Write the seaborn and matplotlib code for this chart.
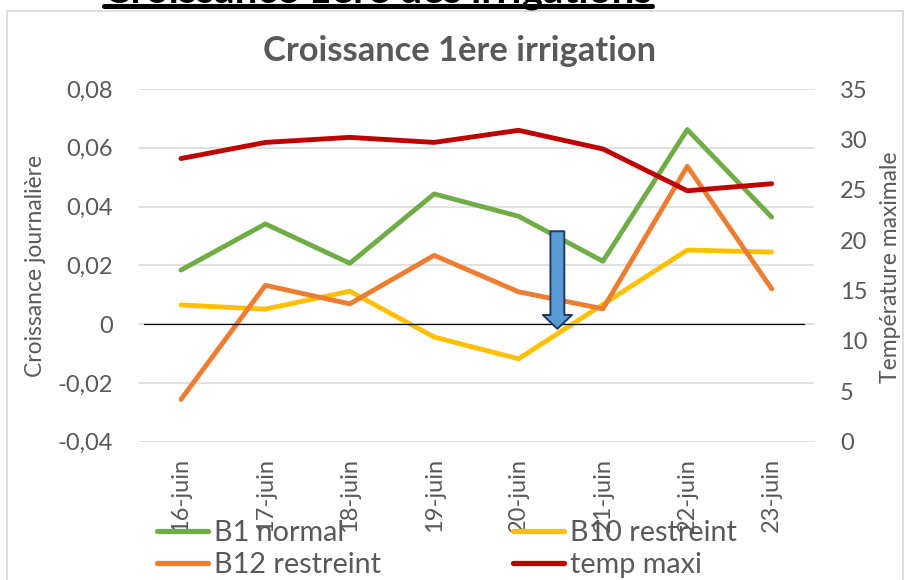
import matplotlib
matplotlib.use("Agg")
import matplotlib.pyplot as plt
import seaborn as sns
import pandas as pd
from matplotlib.lines import Line2D
from matplotlib.patches import Rectangle

# ---------------- data ----------------
dates = ["16-juin", "17-juin", "18-juin", "19-juin", "20-juin", "21-juin", "22-juin", "23-juin"]
b1_normal = [0.0184, 0.0341, 0.0207, 0.0443, 0.0367, 0.0214, 0.0662, 0.0364]
b10_restreint = [0.0065, 0.0051, 0.0112, -0.0044, -0.0118, 0.0067, 0.0252, 0.0245]
b12_restreint = [-0.0256, 0.0132, 0.0069, 0.0234, 0.0110, 0.0052, 0.0537, 0.0120]
temp_maxi = [28.1, 29.7, 30.2, 29.7, 30.9, 29.05, 24.9, 25.6]
series_names = ["B1 normal", "B10 restreint", "B12 restreint", "temp maxi"]
left_ticks = [-0.04, -0.02, 0.0, 0.02, 0.04, 0.06, 0.08]
left_tick_labels = ["-0,04", "-0,02", "0", "0,02", "0,04", "0,06", "0,08"]
right_ticks = [0, 5, 10, 15, 20, 25, 30, 35]
right_tick_labels = ["0", "5", "10", "15", "20", "25", "30", "35"]
title = "Croissance 1ère irrigation"
top_title = "Croissance 1ère des irrigations"
left_label = "Croissance journalière"
right_label = "Température maximale"

colors = {"B1 normal": "#70AD47", "B10 restreint": "#FFC000",
          "B12 restreint": "#ED7D31", "temp maxi": "#C00000"}
TXT = "#595959"

sns.set_style("white")
plt.rcParams["font.family"] = ["Lato", "DejaVu Sans"]

W, H = 905, 580
fig = plt.figure(figsize=(W / 100, H / 100), dpi=100)
fig.patch.set_facecolor("white")

def fx(px):
    return px / W

def fy(py):
    return (H - py) / H

# chart border
fig.patches.append(Rectangle((fx(7), -0.05), fx(903) - fx(7), fy(11) + 0.05,
                             transform=fig.transFigure, fill=False,
                             edgecolor="#D9D9D9", lw=1.2, zorder=0))

L, R, T, B = 138.8, 813.9, 89.0, 441.7
ax = fig.add_axes([fx(L), fy(B), fx(R) - fx(L), (B - T) / H])

df = pd.DataFrame({
    "date": dates * 3,
    "value": b1_normal + b10_restreint + b12_restreint,
    "serie": [series_names[0]] * len(dates) + [series_names[1]] * len(dates)
             + [series_names[2]] * len(dates),
})
sns.lineplot(data=df, x="date", y="value", hue="serie", hue_order=series_names[:3],
             palette=colors, ax=ax, lw=3.5, legend=False, sort=False)

ax2 = ax.twinx()
sns.lineplot(x=dates, y=temp_maxi, ax=ax2, color=colors["temp maxi"], lw=3.5,
             legend=False, sort=False)

ax.set_xlim(-0.5, len(dates) - 0.5)
ax.set_ylim(-0.04, 0.08)
ax2.set_ylim(0, 35)

ax.set_yticks(left_ticks)
ax.set_yticklabels(left_tick_labels)
ax2.set_yticks(right_ticks)
ax2.set_yticklabels(right_tick_labels)
ax.set_xticks(range(len(dates)))
ax.set_xticklabels(dates, rotation=90, ha="center", va="top")

ax.set_xlabel("")
ax.set_ylabel("")
ax2.set_ylabel("")

for a in (ax, ax2):
    for s in a.spines.values():
        s.set_visible(False)
ax.yaxis.grid(True, color="#D9D9D9", lw=1.1)
ax.xaxis.grid(False)
ax2.grid(False)
ax.set_axisbelow(True)

ax.tick_params(axis="y", length=0, pad=18.6, labelsize=17, labelcolor=TXT)
ax2.tick_params(axis="y", length=0, pad=18.7, labelsize=17, labelcolor=TXT)
ax.tick_params(axis="x", length=0, pad=11.5, labelsize=17, labelcolor=TXT)

# zero line (black)
ax2.plot([-0.44, 7.38], [0, 0], transform=ax.transData, color="black", lw=0.9, zorder=3)

# blue arrow
ax2.annotate("", xy=(4.46, -0.0016), xytext=(4.46, 0.0316),
             xycoords=ax.transData, textcoords=ax.transData,
             arrowprops=dict(arrowstyle="simple,tail_width=10,head_width=21,head_length=10",
                             mutation_scale=1, fc="#5B9BD5", ec="#203864", lw=1.4,
                             shrinkA=0, shrinkB=0), zorder=6)

# axis titles
fig.text(fx(36), fy(266), left_label, rotation=90, ha="center", va="center",
         fontsize=16.5, color=TXT)
fig.text(fx(890), fy(267.5), right_label, rotation=90, ha="center", va="center",
         fontsize=16.5, color=TXT)

# titles
t_title = fig.text(fx(459), fy(61), title, ha="center", va="baseline",
                   fontsize=19, fontweight="bold", color=TXT)
t_top = fig.text(fx(378), fy(2), top_title, ha="center", va="baseline",
                 fontsize=22, fontweight="bold", color="black")
fig.lines.append(Line2D([fx(104), fx(652)], [fy(6), fy(6)], transform=fig.transFigure,
                        color="black", lw=3.6))

fig.canvas.draw()
r = fig.canvas.get_renderer()
for t, wpx in ((t_title, 392), (t_top, 548)):
    w = t.get_window_extent(r).width
    t.set_fontsize(t.get_fontsize() * wpx / w)

# legend font sizing
tmp = fig.text(0, 0, "B10 restreint", fontsize=20)
w = tmp.get_window_extent(r).width
leg_fs = 20 * 167 / w
tmp.remove()

fs_px = leg_fs * 100 / 72
def make_legend(names, x0):
    handles = [Line2D([], [], color=colors[n], lw=3.8) for n in names]
    lg = fig.legend(handles, names, loc="center left",
                    bbox_to_anchor=(fx(x0), fy(549)), frameon=False,
                    fontsize=leg_fs, handlelength=51 / fs_px, handletextpad=6 / fs_px,
                    borderpad=0, borderaxespad=0, labelspacing=0.2, labelcolor=TXT)
    return lg

make_legend([series_names[0], series_names[2]], 157)
make_legend([series_names[1], series_names[3]], 513)

fig.savefig("out.png", dpi=100, facecolor="white")
